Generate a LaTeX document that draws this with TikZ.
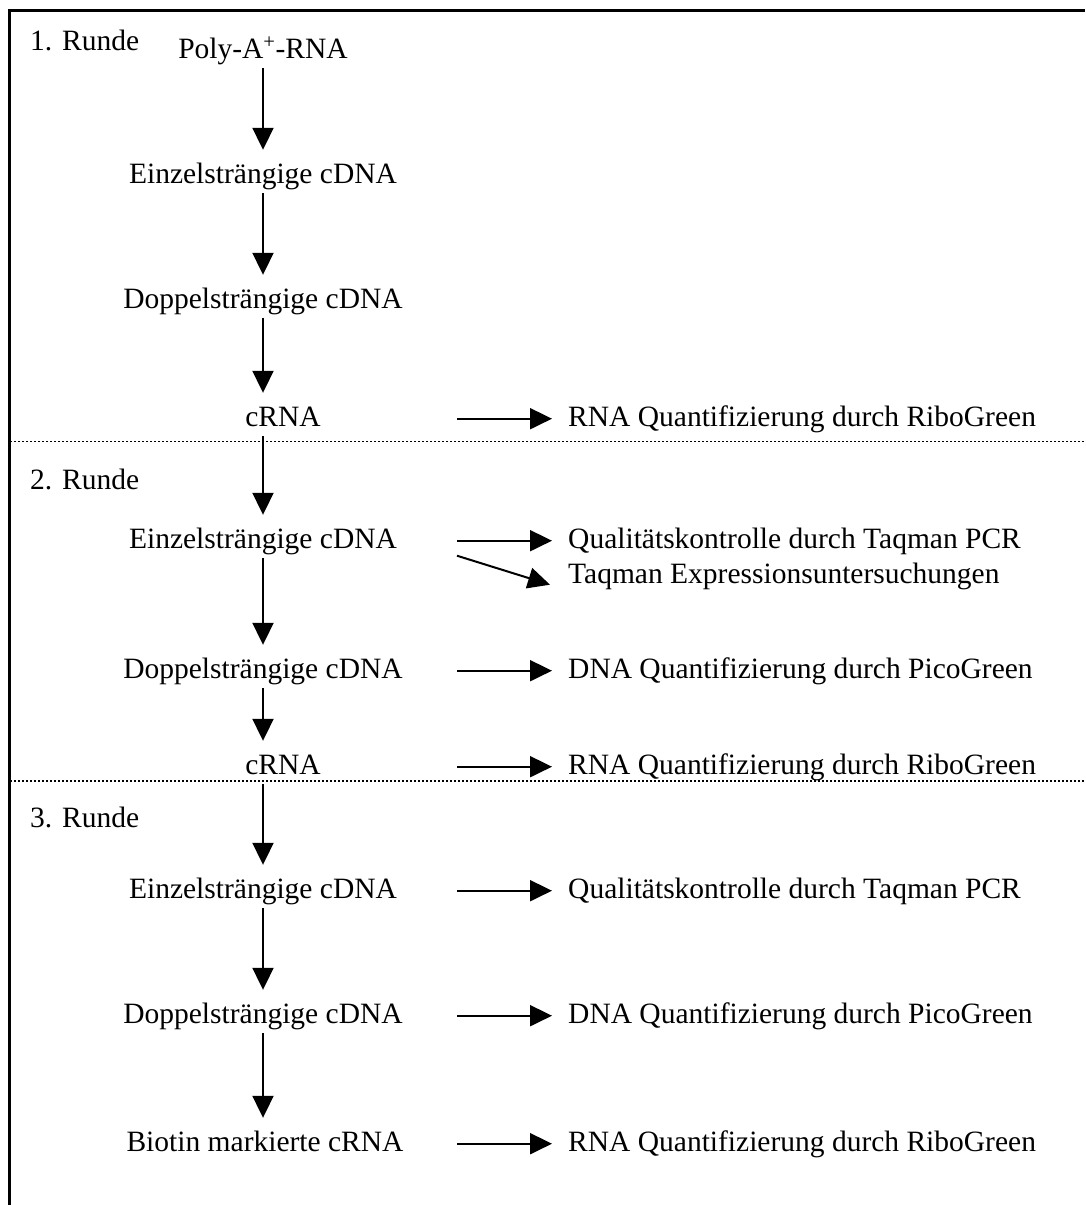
\documentclass[tikz,border=0pt]{standalone}
\usepackage{fontspec}
\setmainfont{Liberation Serif}
\usetikzlibrary{
    positioning,
    arrows.meta
    }

\begin{document}
\begin{tikzpicture}[x=1pt, y=-1pt]
\tikzset{stage/.style =
        {
            font=\fontsize{29.5}{34}\selectfont,
            anchor=base,
            text height=20pt,
            text depth=7pt,
            inner xsep=0pt,
            inner ysep=3pt
        }
}

\tikzset{check/.style = { stage, anchor=base west } }

\tikzset{roundlabel/.style = { stage, anchor=base west } }

\tikzset{flow/.style = {
            line width=2pt,
            -{Triangle[length=22pt,width=21pt]},
            shorten >=10pt
        }
}

\tikzset{side/.style = {
            line width=2pt,
            -{Triangle[length=22pt,width=21pt]}
        }
}

\tikzset{divider/.style = { line width=1.5pt, dash pattern=on 1.5pt off 2.5pt } }

\tikzset{frame/.style = { line width=3pt } }

		\useasboundingbox (0,0) rectangle (1085,1205);

		\draw[frame] (1085,10.5) -- (9,10.5) -- (9,1205);
		\draw[divider] (10,441.5) -- (1085,441.5);
		\draw[divider] (10,781) -- (1085,781);

		\node[roundlabel] (run1) at (30,50) {1. Runde};
		\node[roundlabel] (run2) at (30,489) {2. Runde};
		\node[roundlabel] (run3) at (30,827) {3. Runde};

		% main column
		\node[stage] (p) at (263,58) {Poly-A\textsuperscript{+}-RNA};
		\node[stage] (e1) at (263,183) {Einzelsträngige cDNA};
		\node[stage] (d1) at (263,308) {Doppelsträngige cDNA};
		\node[stage] (c1) at (283,426) {cRNA};
		\node[stage] (e2) at (263,548) {Einzelsträngige cDNA};
		\node[stage] (d2) at (263,678) {Doppelsträngige cDNA};
		\node[stage] (c2) at (283,774) {cRNA};
		\node[stage] (e3) at (263,898) {Einzelsträngige cDNA};
		\node[stage] (d3) at (263,1023) {Doppelsträngige cDNA};
		\node[stage] (b3) at (265,1151) {Biotin markierte cRNA};

		% checks
		\node[check] (r1) at (568,426) {RNA Quantifizierung durch RiboGreen};
		\node[check] (q2) at (568,548) {Qualitätskontrolle durch Taqman PCR};
		\node[check] (t2) at (568,583) {Taqman Expressionsuntersuchungen};
		\node[check] (p2) at (568,678) {DNA Quantifizierung durch PicoGreen};
		\node[check] (r2) at (568,774) {RNA Quantifizierung durch RiboGreen};
		\node[check] (q3) at (568,898) {Qualitätskontrolle durch Taqman PCR};
		\node[check] (p3) at (568,1023) {DNA Quantifizierung durch PicoGreen};
		\node[check] (r3) at (568,1151) {RNA Quantifizierung durch RiboGreen};

		\draw[flow] (p) -- (e1);
		\draw[flow] (e1) -- (d1);
		\draw[flow] (d1) -- (d1 |- c1.north);
		\draw[flow] (e2 |- c1.south) -- (e2);
		\draw[flow] (e2) -- (d2);
		\draw[flow] (d2) -- (d2 |- c2.north);
		\draw[flow] (e3 |- c2.south) -- (e3);
		\draw[flow] (e3) -- (d3);
		\draw[flow] (d3) -- (d3 |- b3.north);

		\foreach \n in {r1, q2, p2, r2, q3, p3, r3}
		\draw[side] ([shift={(-111,-5)}]\n.mid west) -- ([shift={(-16,-5)}]\n.mid west);
		\draw[side] ([shift={(-111,10)}]q2.mid west) -- ([shift={(-18,4)}]t2.mid west);

	\end{tikzpicture}
\end{document}
